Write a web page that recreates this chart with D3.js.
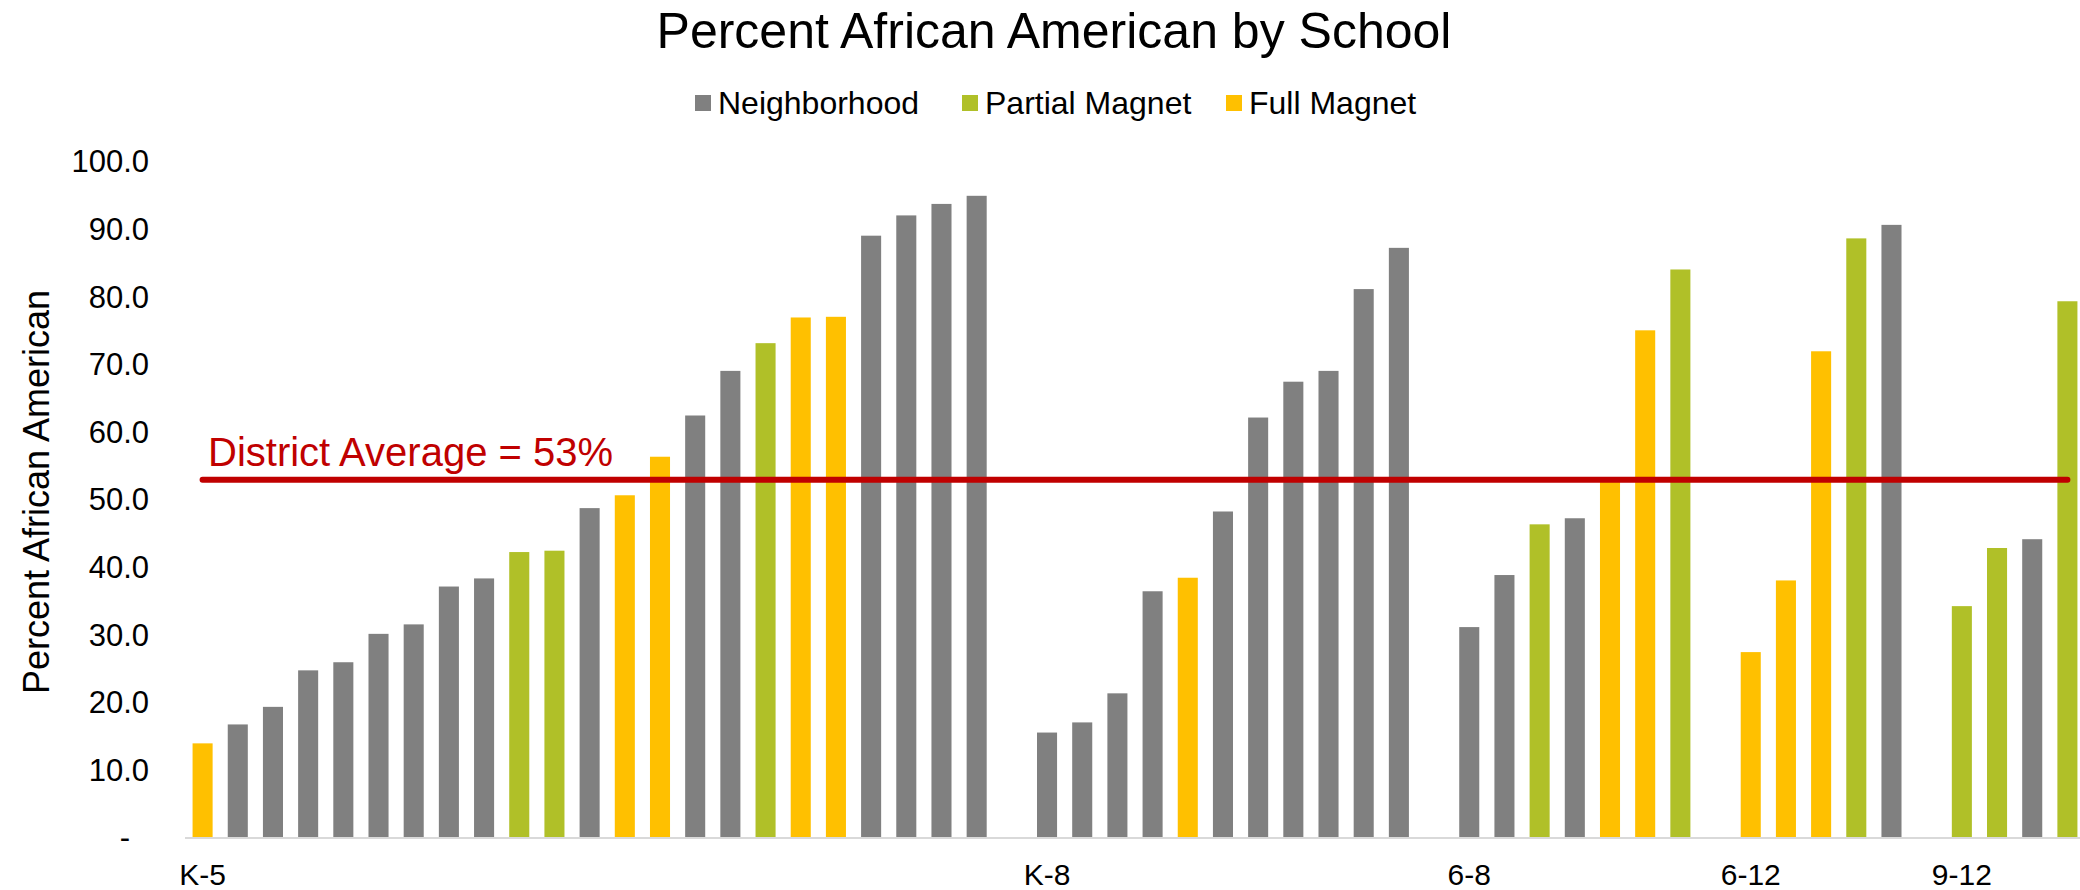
<!DOCTYPE html>
<html>
<head>
<meta charset="utf-8">
<script src="https://cdn.jsdelivr.net/npm/d3@7"></script>
<style>
  html, body { margin: 0; padding: 0; background: #fff; }
  svg { display: block; font-family: Arial, "Liberation Sans", sans-serif; }
</style>
</head>
<body>
<svg id="chart" width="2080" height="890"></svg>
<script>
// School grade bands, in display order
const gradeBands = ["K-5", "K-8", "6-8", "6-12", "9-12"];

// Percent African American per school, grouped by grade band
const k5Values  = [14.0, 16.8, 19.4, 24.8, 26.0, 30.2, 31.6, 37.2, 38.4, 42.3, 42.5, 48.8, 50.7, 56.4, 62.5, 69.1, 73.2, 77.0, 77.1, 89.1, 92.1, 93.8, 95.0];
const k8Values  = [15.6, 17.1, 21.4, 36.5, 38.5, 48.3, 62.2, 67.5, 69.1, 81.2, 87.3];
const g68Values = [31.2, 38.9, 46.4, 47.3, 53.0, 75.1, 84.1];
const g612Values = [27.5, 38.1, 72.0, 88.7, 90.7];
const g912Values = [34.3, 42.9, 44.2, 79.4];

// School type per bar: N = Neighborhood, P = Partial Magnet, F = Full Magnet
const k5Types  = ["F","N","N","N","N","N","N","N","N","P","P","N","F","F","N","N","P","F","F","N","N","N","N"];
const k8Types  = ["N","N","N","N","F","N","N","N","N","N","N"];
const g68Types = ["N","N","P","N","F","F","P"];
const g612Types = ["F","F","F","P","N"];
const g912Types = ["P","P","N","P"];

// Legend series
const seriesKeys   = ["N", "P", "F"];
const seriesNames  = ["Neighborhood", "Partial Magnet", "Full Magnet"];
const seriesColors = ["#808080", "#B0C028", "#FFC000"];

// Y axis ticks
const yTicks = [0, 10, 20, 30, 40, 50, 60, 70, 80, 90, 100];

// District-wide average
const districtAverage = 53;

// ---- build the flat category list: one slot per school, one blank slot between bands
const bandValues = [k5Values, k8Values, g68Values, g612Values, g912Values];
const bandTypes  = [k5Types, k8Types, g68Types, g612Types, g912Types];
const slots = [];
bandValues.forEach((vals, b) => {
  if (b > 0) slots.push({ blank: true, id: slots.length });
  vals.forEach((v, i) => {
    slots.push({ id: slots.length, value: v, type: bandTypes[b][i], band: gradeBands[b], first: i === 0 });
  });
});

const svg = d3.select("#chart");
const colorOf = d3.scaleOrdinal().domain(seriesKeys).range(seriesColors);

const plotLeft = 185, plotRight = 2085, plotTop = 162, plotBottom = 838;

const x = d3.scaleBand()
  .domain(slots.map(d => d.id))
  .range([plotLeft, plotRight])
  .paddingInner(0.43)
  .paddingOuter(0.215);

const y = d3.scaleLinear().domain([0, 100]).range([plotBottom, plotTop]);

// Title
svg.append("text")
  .attr("x", 1054).attr("y", 48)
  .attr("text-anchor", "middle")
  .attr("font-size", 50)
  .attr("fill", "#000")
  .text("Percent African American by School");

// Legend
const legendX = [695, 962, 1226];
const legend = svg.append("g");
seriesKeys.forEach((k, i) => {
  legend.append("rect")
    .attr("x", legendX[i]).attr("y", 95)
    .attr("width", 16).attr("height", 16)
    .attr("fill", seriesColors[i]);
  legend.append("text")
    .attr("x", legendX[i] + 23).attr("y", 114)
    .attr("font-size", 32)
    .attr("fill", "#000")
    .text(seriesNames[i]);
});

// Y axis (labels only, no line)
const yAxis = svg.append("g")
  .attr("transform", `translate(${plotLeft},0)`)
  .call(d3.axisLeft(y)
    .tickValues(yTicks)
    .tickSize(0)
    .tickPadding(36)
    .tickFormat(d => d === 0 ? "-" : d3.format(".1f")(d)));
yAxis.select(".domain").remove();
yAxis.selectAll("text")
  .attr("font-size", 31)
  .attr("font-family", "Arial, 'Liberation Sans', sans-serif")
  .attr("fill", "#000")
  .attr("dx", d => d === 0 ? -19 : 0);

// Y axis title
svg.append("text")
  .attr("transform", "translate(49,492) rotate(-90)")
  .attr("text-anchor", "middle")
  .attr("font-size", 36)
  .attr("fill", "#000")
  .text("Percent African American");

// Bars
svg.append("g").selectAll("rect")
  .data(slots.filter(d => !d.blank))
  .join("rect")
  .attr("x", d => x(d.id))
  .attr("width", x.bandwidth())
  .attr("y", d => y(d.value))
  .attr("height", d => y(0) - y(d.value))
  .attr("fill", d => colorOf(d.type));

// Category axis baseline
svg.append("line")
  .attr("x1", plotLeft).attr("x2", plotRight)
  .attr("y1", y(0)).attr("y2", y(0))
  .attr("stroke", "#D9D9D9")
  .attr("stroke-width", 2);

// Grade band labels under the first school of each band
svg.append("g").selectAll("text")
  .data(slots.filter(d => d.first))
  .join("text")
  .attr("x", d => x(d.id) + x.bandwidth() / 2)
  .attr("y", 885)
  .attr("text-anchor", "middle")
  .attr("font-size", 30)
  .attr("fill", "#000")
  .text(d => d.band);

// District average line across all slots
const avgPoints = [slots[0], slots[slots.length - 1]].map(d => ({ id: d.id, value: districtAverage }));
svg.append("path")
  .datum(avgPoints)
  .attr("d", d3.line().x(d => x(d.id) + x.bandwidth() / 2).y(d => y(d.value)))
  .attr("fill", "none")
  .attr("stroke", "#C00000")
  .attr("stroke-width", 6)
  .attr("stroke-linecap", "round");

svg.append("text")
  .attr("x", 208).attr("y", 466)
  .attr("font-size", 40)
  .attr("fill", "#C00000")
  .text(`District Average = ${districtAverage}%`);
</script>
</body>
</html>
